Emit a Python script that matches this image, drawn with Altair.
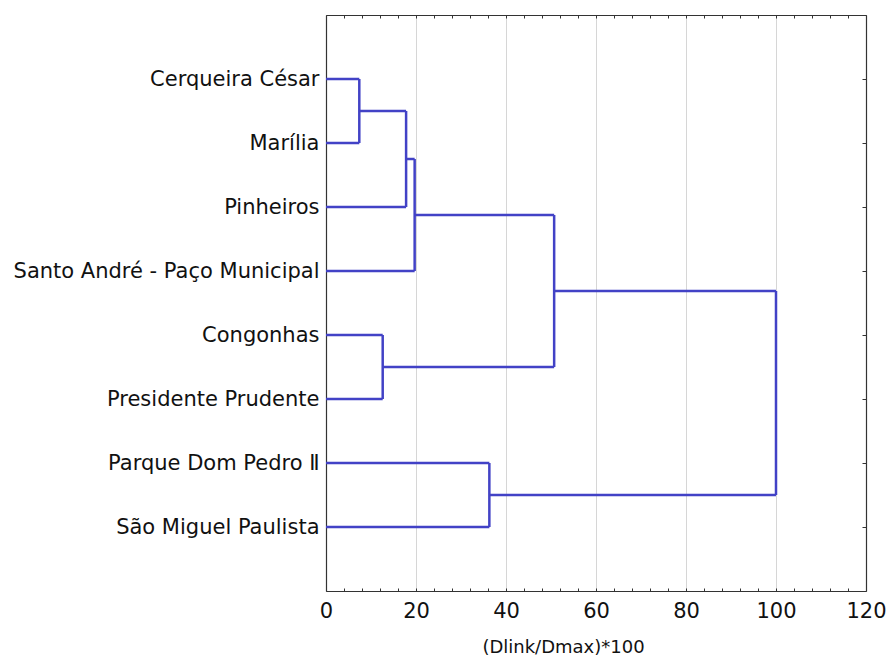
import altair as alt
import pandas as pd

# Leaves (top to bottom)
labels = ["Cerqueira César", "Marília", "Pinheiros", "Santo André - Paço Municipal",
          "Congonhas", "Presidente Prudente", "Parque Dom Pedro Ⅱ", "São Miguel Paulista"]
# Linkage: merged nodes (leaf ids 0-7, cluster ids 8+) and linkage distance (Dlink/Dmax)*100
merge_a = [0, 8, 9, 4, 10, 6, 12]
merge_b = [1, 2, 3, 5, 11, 7, 13]
merge_h = [7.4, 17.8, 19.7, 12.6, 50.7, 36.3, 100.0]

x_ticks_major = [0, 20, 40, 60, 80, 100, 120]
x_ticks_minor = list(range(0, 121, 4))

# Build dendrogram segments from the linkage
node_x = {i: 0.0 for i in range(len(labels))}
node_y = {i: float(i + 1) for i in range(len(labels))}
rows = []
for k, (a, b, h) in enumerate(zip(merge_a, merge_b, merge_h)):
    nid = len(labels) + k
    for c in (a, b):
        rows.append({"x": node_x[c], "x2": h, "y": node_y[c], "y2": node_y[c]})
    rows.append({"x": h, "x2": h, "y": node_y[a], "y2": node_y[b]})
    node_x[nid] = h
    node_y[nid] = (node_y[a] + node_y[b]) / 2
seg = pd.DataFrame(rows)

FONT = "DejaVu Sans"
LINE = "#4242C6"
FRAME = "#333333"
xscale = alt.Scale(domain=[0, 120], nice=False, zero=False)
yscale = alt.Scale(domain=[0, 9], nice=False, zero=False, reverse=True)

label_js = "[" + ",".join("'" + s + "'" for s in labels) + "]"

main = alt.Chart(seg).mark_rule(color=LINE, strokeWidth=2.5).encode(
    x=alt.X("x:Q", scale=xscale, axis=alt.Axis(
        values=x_ticks_major, grid=True, gridColor="#d6d6d6", gridWidth=1,
        ticks=False, domain=True, domainColor=FRAME, domainWidth=1.2,
        labelFont=FONT, labelFontSize=21,
        labelColor="#111", labelPadding=9, labelFlush=False,
        title="(Dlink/Dmax)*100", titleFont=FONT, titleFontSize=18,
        titleFontWeight="normal", titleColor="#111",
        titleX=237, titleY=61, titleBaseline="alphabetic", titleAlign="center")),
    x2="x2:Q",
    y=alt.Y("y:Q", scale=yscale, axis=alt.Axis(
        values=list(range(1, len(labels) + 1)), labelExpr=label_js + "[datum.value-1]",
        grid=False, ticks=False, domain=True, domainColor=FRAME, domainWidth=1.2,
        labelFont=FONT, labelFontSize=21,
        labelColor="#111", labelPadding=7, title=None, labelLimit=400)),
    y2="y2:Q",
)

def ghost(xaxis, yaxis):
    return alt.Chart(seg).mark_point(opacity=0).encode(
        x=alt.X("x:Q", scale=xscale, axis=xaxis),
        y=alt.Y("y:Q", scale=yscale, axis=yaxis),
    )

bottom_minor = ghost(
    alt.Axis(orient="bottom", values=x_ticks_minor, labels=False, domain=False,
             grid=False, tickSize=3, offset=-3, tickColor=FRAME, title=None),
    None)
top_minor = ghost(
    alt.Axis(orient="top", values=x_ticks_minor, labels=False, domain=False,
             grid=False, tickSize=3, offset=-3, tickColor=FRAME, title=None),
    None)
top_line = ghost(
    alt.Axis(orient="top", labels=False, ticks=False, domain=True, domainColor=FRAME,
             domainWidth=1.2, grid=False, title=None),
    None)
right_ticks = ghost(
    None,
    alt.Axis(orient="right", values=list(range(1, len(labels) + 1)), labels=False,
             domain=False, grid=False, tickSize=4, offset=-4, tickColor=FRAME, title=None))
right_line = ghost(
    None,
    alt.Axis(orient="right", labels=False, ticks=False, domain=True, domainColor=FRAME,
             domainWidth=1.2, grid=False, title=None))

chart = alt.layer(main, bottom_minor, top_minor, top_line, right_ticks, right_line).resolve_axis(
    x="independent", y="independent"
).properties(
    width=540, height=576,
    autosize=alt.AutoSizeParams(type="none"),
    padding={"left": 326, "top": 15, "right": 21, "bottom": 66},
).configure_view(stroke=None).configure(background="white")

chart.save("out.html", embed_options={"renderer": "svg", "actions": False})
